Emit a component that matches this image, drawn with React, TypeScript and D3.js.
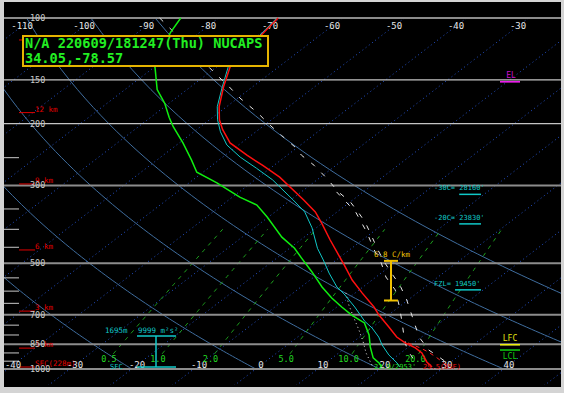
import React from 'react';
import * as d3 from 'd3';

const W = 564;
const H = 393;

// ---- grid definitions ----
const pressureLines = [100, 150, 200, 300, 500, 700, 850, 1000];
const minorPressureTicks = [250, 350, 400, 450, 550, 600, 650, 750, 800, 900, 950];
const topTempLabels = [-110, -100, -90, -80, -70, -60, -50, -40, -30];
const bottomTempLabels = [-40, -30, -20, -10, 0, 10, 20, 30, 40];
const isothermValues = [-110, -100, -90, -80, -70, -60, -50, -40, -30, -20, -10, 0, 10, 20, 30, 40, 50];
const dryAdiabatValues = [-20, 0, 20, 40, 60, 80];
const mixingRatioValues = [0.5, 1, 2, 5, 10, 20];
const mixingRatioLabels = ['0.5', '1.0', '2.0', '5.0', '10.0', '20.0'];

// height markers (label, pressure); the 15 km label is hidden behind the title box
const heightLabels = ['', '12 km', '9 km', '6 km', '3 km', '1 km', 'SFC(228m)'];
const heightPressures = [115.5, 186, 297, 458, 684, 872, 987];

// ---- sounding profiles [pressure hPa, temperature C] ----
const tempProfile = [
  [100, -70.4], [108, -69.8], [138, -67.8], [157, -64.7], [179, -61.2], [195, -58.4],
  [208, -55.8], [227, -51.8], [246, -46.5], [263, -41.8], [284, -36.6], [330, -27.9],
  [357, -23.5], [386, -19.9], [429, -15.2], [464, -11.6], [505, -7.7], [558, -3.2],
  [607, 1.1], [666, 6.0], [702, 8.5], [759, 12.6], [811, 16.0], [843, 18.6],
  [871, 21.3], [900, 23.4], [955, 26.1], [987, 28.0],
];
const dewProfile = [
  [100, -86.1], [110, -84.7], [138, -79.9], [160, -74.8], [175, -70.7], [192, -67.0],
  [204, -64.4], [227, -59.4], [254, -54.4], [275, -51.0], [295, -45.5], [324, -38.8],
  [341, -34.4], [369, -30.2], [421, -23.6], [453, -19.2], [483, -16.0], [529, -11.4],
  [584, -6.6], [628, -2.7], [666, 0.8], [702, 4.1], [739, 7.8], [800, 11.1],
  [865, 13.8], [930, 16.6], [961, 18.6], [987, 19.9],
];
const wetbulbProfile = [
  [100, -70.6], [108, -70.0], [138, -68.1], [157, -64.9], [179, -61.5], [195, -58.7],
  [211, -55.7], [230, -51.9], [249, -47.2], [268, -42.2], [289, -37.2], [330, -29.6],
  [357, -25.2], [396, -20.7], [453, -15.5], [489, -12.1], [533, -8.4], [584, -4.2],
  [611, -1.6], [666, 2.9], [731, 7.5], [764, 10.1], [811, 13.1], [854, 15.3],
  [912, 18.5], [961, 21.5], [987, 22.8],
];
const parcelTvProfile = [
  [100, -89.5], [145, -68.4], [157, -63.8], [169, -59.7], [186, -53.8], [202, -49.1],
  [216, -45.1], [233, -40.5], [246, -37.7], [263, -33.5], [286, -28.8], [313, -24.0],
  [334, -20.0], [357, -16.6], [381, -13.4], [407, -10.5], [458, -5.4], [499, -1.5],
  [540, 2.3], [576, 5.5], [636, 9.8], [727, 15.2], [811, 19.6], [883, 23.9],
  [924, 27.0], [961, 29.6], [987, 30.7],
];
const parcelTProfile = [
  [313, -24.3], [357, -17.0], [407, -11.0], [458, -6.0], [499, -2.1], [547, 1.6],
  [595, 5.8], [657, 9.6], [727, 13.3], [800, 16.7], [883, 20.4], [930, 23.0],
];
const downdraftProfile = [
  [607, -1.5], [657, 1.5], [716, 5.1], [774, 8.4], [837, 11.6], [900, 14.4], [955, 17.0], [987, 18.5],
];
const virtTempProfile = [
  [843, 19.1], [871, 22.1], [894, 24.2], [924, 26.5], [968, 29.5], [987, 30.6],
];

// ---- annotations ----
const levelTexts = ["-30C= 28160'", "-20C= 23830'", "FZL= 19450'"];
const levelPressures = [318, 386, 595];
const elPressure = 152;
const lfcPressure = 853;
const lclPressure = 883;
const lapseTop = 492;
const lapseBottom = 638;
const lapseText = '6.8 C/km';
const inflowTop = 805;
const inflowBottom = 987;
const inflowDepthText = '1695m';
const inflowSrhText = '9999 m²s²';
const sfcDewText = "22.9/2953'";
const sfcTempText = '29.5(85F)';
const titleLine1 = 'N/A 220609/181247(Thu) NUCAPS';
const titleLine2 = '34.05,-78.57';

// ---- scales ----
const yScale = d3.scaleLog().domain([100, 1000]).range([18, 369]);
const tScale = d3.scaleLinear().domain([-40, 40]).range([7.8, 503.8]);
const SKEW = 1.307;
const xOf = (t: number, p: number) => tScale(t) + SKEW * (yScale(1000) - yScale(p));

const MONO = "'DejaVu Sans Mono', monospace";

function mixingTd(w: number, p: number) {
  const e = (w * p) / (622 + w);
  const l = Math.log(e / 6.112);
  return (243.5 * l) / (17.67 - l);
}

export default function App() {
  const line = d3
    .line<number[]>()
    .x((d) => xOf(d[1], d[0]))
    .y((d) => yScale(d[0]));

  const isoPs = [100, 1120];
  const adiabatPs = d3.range(1000, 99, -10);
  const mixPs = d3.range(905, 399, -5);

  const pTop = yScale.invert(26);
  const pBottom = yScale.invert(365);
  const pMix = yScale.invert(359);

  return (
    <svg
      width={W}
      height={H}
      style={{ position: 'absolute', left: 0, top: 0, display: 'block' }}
      fontFamily={MONO}
    >
      <defs>
        <clipPath id="plotClip">
          <rect x={4} y={17} width={557} height={368} />
        </clipPath>
      </defs>
      <rect x={0} y={0} width={W} height={H} fill="#d4d4d4" />
      <rect x={4} y={2} width={557} height={385} fill="#000" />

      <g clipPath="url(#plotClip)">
        {/* isotherms */}
        {isothermValues.map((t) => (
          <path
            key={'iso' + t}
            d={line(isoPs.map((p) => [p, t])) || ''}
            stroke="#2452cc"
            strokeWidth={1}
            strokeDasharray="1,3"
            fill="none"
          />
        ))}
        {/* dry adiabats */}
        {dryAdiabatValues.map((th) => (
          <path
            key={'da' + th}
            d={
              line(
                adiabatPs.map((p) => [p, (th + 273.15) * Math.pow(p / 1000, 0.2857) - 273.15])
              ) || ''
            }
            stroke="#3f6d9e"
            strokeWidth={1}
            fill="none"
          />
        ))}
        {/* mixing ratio lines */}
        {mixingRatioValues.map((w) => (
          <path
            key={'mr' + w}
            d={line(mixPs.map((p) => [p, mixingTd(w, p)])) || ''}
            stroke="#1fa81f"
            strokeWidth={1}
            strokeDasharray="4,5"
            fill="none"
          />
        ))}
      </g>

      {/* pressure lines */}
      {pressureLines.map((p) => {
        const light = p === 150 || p === 200;
        return (
          <line
            key={'pl' + p}
            x1={4}
            x2={561}
            y1={yScale(p)}
            y2={yScale(p)}
            stroke={light ? '#c4c4c4' : '#8c8c8c'}
            strokeWidth={light ? 1.2 : 2}
          />
        );
      })}
      {minorPressureTicks.map((p) => (
        <line key={'mt' + p} x1={4} x2={19} y1={yScale(p)} y2={yScale(p)} stroke="#c8c8c8" strokeWidth={1} />
      ))}

      {/* height markers */}
      {heightLabels.map((lab, i) => (
        <g key={'h' + i}>
          <line
            x1={19}
            x2={35}
            y1={yScale(heightPressures[i])}
            y2={yScale(heightPressures[i])}
            stroke="#e00000"
            strokeWidth={1}
          />
          {lab ? (
            <text x={35} y={yScale(heightPressures[i]) - 1} fontSize={7.5} fill="#e00000">
              {lab}
            </text>
          ) : null}
        </g>
      ))}

      {/* pressure labels */}
      {pressureLines.map((p) => (
        <text key={'plab' + p} x={30} y={yScale(p)} dominantBaseline="central" fontSize={8.5} fill="#c8c8c8">
          {p}
        </text>
      ))}

      {/* temperature labels */}
      {topTempLabels.map((t) => (
        <text
          key={'tt' + t}
          x={xOf(t, pTop)}
          y={26}
          textAnchor="middle"
          dominantBaseline="central"
          fontSize={9}
          fill="#e6e6e6"
        >
          {t}
        </text>
      ))}
      {bottomTempLabels.map((t) => (
        <text
          key={'bt' + t}
          x={xOf(t, pBottom)}
          y={365}
          textAnchor="middle"
          dominantBaseline="central"
          fontSize={9}
          fill="#e6e6e6"
        >
          {t}
        </text>
      ))}

      {/* mixing ratio labels */}
      {mixingRatioValues.map((w, i) => (
        <text
          key={'ml' + w}
          x={xOf(mixingTd(w, pMix), pMix)}
          y={359}
          textAnchor="middle"
          dominantBaseline="central"
          fontSize={8.5}
          fill="#22d822"
        >
          {mixingRatioLabels[i]}
        </text>
      ))}

      {/* profiles */}
      <g clipPath="url(#plotClip)" fill="none">
        <path d={line(downdraftProfile) || ''} stroke="#e8e8e8" strokeWidth={1} strokeDasharray="1,3" />
        <path d={line(parcelTProfile) || ''} stroke="#e8e8e8" strokeWidth={1} strokeDasharray="5,9" />
        <path d={line(parcelTvProfile) || ''} stroke="#e8e8e8" strokeWidth={1} strokeDasharray="5,9" />
        <path d={line(virtTempProfile) || ''} stroke="#ff2020" strokeWidth={1} strokeDasharray="4,4" />
        <path d={line(dewProfile) || ''} stroke="#10ee10" strokeWidth={1.5} />
        <path d={line(wetbulbProfile) || ''} stroke="#10c8c8" strokeWidth={1} />
        <path d={line(tempProfile) || ''} stroke="#ff1010" strokeWidth={1.5} />
      </g>

      {/* surface value labels */}
      <text x={374} y={366.5} dominantBaseline="central" fontSize={7} fill="#22dd22">
        {sfcDewText}
      </text>
      <text x={423} y={366.5} dominantBaseline="central" fontSize={7} fill="#ee1010">
        {sfcTempText}
      </text>

      {/* level labels (cyan) */}
      {levelTexts.map((t, i) => {
        const y = yScale(levelPressures[i]);
        const prefix = t.indexOf('=') + 2;
        const x0 = 434;
        const cw = 4.2;
        return (
          <g key={'lv' + i}>
            <text x={x0} y={y - 6} dominantBaseline="central" fontSize={7} fill="#10c8c8">
              {t}
            </text>
            <line x1={x0 + prefix * cw} x2={481} y1={y} y2={y} stroke="#10c8c8" strokeWidth={1.5} />
          </g>
        );
      })}

      {/* EL / LFC / LCL */}
      <text x={511} y={yScale(elPressure) - 6} textAnchor="middle" dominantBaseline="central" fontSize={8} fill="#cc10cc">
        EL
      </text>
      <line x1={500} x2={520} y1={yScale(elPressure)} y2={yScale(elPressure)} stroke="#ff20ff" strokeWidth={1.5} />
      <text x={510} y={yScale(lfcPressure) - 6} textAnchor="middle" dominantBaseline="central" fontSize={8} fill="#e0e010">
        LFC
      </text>
      <line x1={500} x2={520} y1={yScale(lfcPressure)} y2={yScale(lfcPressure)} stroke="#f0f010" strokeWidth={1.5} />
      <line x1={500} x2={520} y1={yScale(lclPressure)} y2={yScale(lclPressure)} stroke="#10cc10" strokeWidth={1.5} />
      <text x={510} y={yScale(lclPressure) + 6} textAnchor="middle" dominantBaseline="central" fontSize={8} fill="#10cc10">
        LCL
      </text>

      {/* lapse rate bar */}
      <g stroke="#f0c000" strokeWidth={2}>
        <line x1={384} x2={398} y1={yScale(lapseTop)} y2={yScale(lapseTop)} />
        <line x1={391} x2={391} y1={yScale(lapseTop)} y2={yScale(lapseBottom)} />
        <line x1={384} x2={398} y1={yScale(lapseBottom)} y2={yScale(lapseBottom)} />
      </g>
      <text x={374} y={yScale(lapseTop) - 6} dominantBaseline="central" fontSize={7.5} fill="#f0c000">
        {lapseText}
      </text>

      {/* effective inflow bar */}
      <g stroke="#10c8c8" strokeWidth={1.5}>
        <line x1={137} x2={176} y1={yScale(inflowTop)} y2={yScale(inflowTop)} />
        <line x1={156} x2={156} y1={yScale(inflowTop)} y2={yScale(inflowBottom)} />
        <line x1={137} x2={176} y1={yScale(inflowBottom)} y2={yScale(inflowBottom)} />
      </g>
      <text x={105} y={yScale(inflowTop) - 5.5} dominantBaseline="central" fontSize={7.5} fill="#10c8c8">
        {inflowDepthText}
      </text>
      <text x={138} y={yScale(inflowTop) - 5.5} dominantBaseline="central" fontSize={7.5} fill="#10c8c8">
        {inflowSrhText}
      </text>
      <text x={110} y={yScale(inflowBottom) - 0.5} dominantBaseline="central" fontSize={7} fill="#10c8c8">
        SFC
      </text>

      {/* title box */}
      <rect x={23} y={36} width={245} height={30} fill="#000" stroke="#e6b400" strokeWidth={2} />
      <text x={25} y={48} fontSize={13.6} fontWeight="bold" fill="#22ee22">
        {titleLine1}
      </text>
      <text x={25} y={63} fontSize={13.6} fontWeight="bold" fill="#22ee22">
        {titleLine2}
      </text>
    </svg>
  );
}
